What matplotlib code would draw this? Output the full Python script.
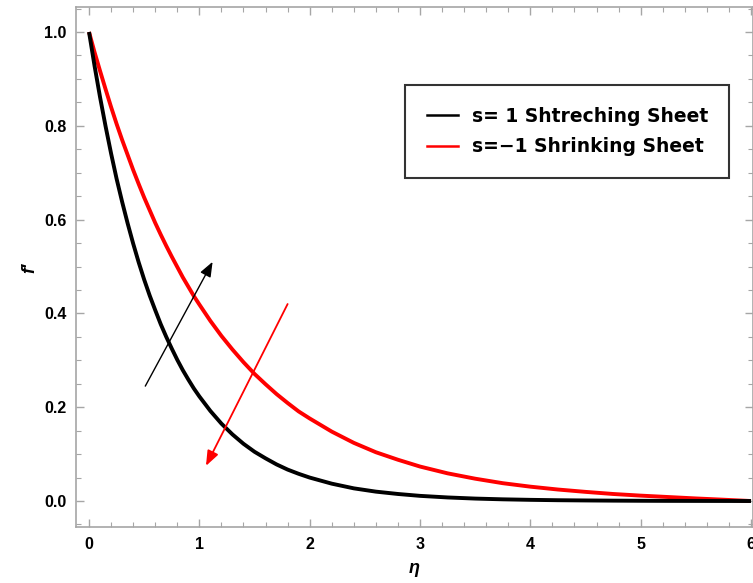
import matplotlib
matplotlib.use("Agg")
import matplotlib.pyplot as plt
from matplotlib.lines import Line2D
from matplotlib.ticker import MultipleLocator

plt.rcParams['font.family'] = ['Liberation Sans', 'DejaVu Sans']

eta = [0, 0.05, 0.10, 0.15, 0.20, 0.25, 0.30, 0.35, 0.40, 0.45, 0.50, 0.55, 0.60,
       0.65, 0.70, 0.75, 0.80, 0.85, 0.90, 0.95, 1.00, 1.1, 1.2, 1.3, 1.4, 1.5,
       1.6, 1.7, 1.8, 1.9, 2.0, 2.2, 2.4, 2.6, 2.8, 3.0, 3.25, 3.5, 3.75, 4.0,
       4.25, 4.5, 4.75, 5.0, 5.25, 5.5, 5.75, 6.0]
f_stretch = [1.000, 0.928, 0.861, 0.799, 0.741, 0.687, 0.638, 0.592, 0.549, 0.509,
             0.472, 0.438, 0.407, 0.377, 0.350, 0.325, 0.301, 0.279, 0.259, 0.240,
             0.223, 0.192, 0.165, 0.142, 0.122, 0.105, 0.091, 0.078, 0.067, 0.058,
             0.050, 0.037, 0.027, 0.020, 0.015, 0.011, 0.0076, 0.0052, 0.0036, 0.0025,
             0.0017, 0.0012, 0.0008, 0.0005, 0.0003, 0.0002, 0.0001, 0.0]
f_shrink = [1.000, 0.957, 0.917, 0.878, 0.840, 0.804, 0.770, 0.738, 0.706, 0.676,
            0.647, 0.620, 0.593, 0.568, 0.544, 0.521, 0.499, 0.477, 0.457, 0.437,
            0.419, 0.384, 0.352, 0.323, 0.296, 0.271, 0.249, 0.228, 0.209, 0.191,
            0.176, 0.148, 0.124, 0.104, 0.088, 0.0735, 0.059, 0.0476, 0.038, 0.0306,
            0.0245, 0.0195, 0.015, 0.0115, 0.0085, 0.0055, 0.0028, 0.0]
labels = ["s= 1 Shtreching Sheet", "s=\u22121 Shrinking Sheet"]
xticks = [0, 1, 2, 3, 4, 5, 6]
yticks = [0.0, 0.2, 0.4, 0.6, 0.8, 1.0]

fig = plt.figure(figsize=(7.53, 5.83), dpi=100)
ax = fig.add_axes([76/753, 1-527/583, 1-76/753, (527-7)/583])

ax.plot(eta, f_shrink, color='#ff0000', lw=2.8, solid_capstyle='butt', zorder=3)
ax.plot(eta, f_stretch, color='black', lw=2.8, solid_capstyle='butt', zorder=3)

ax.set_xlim(-0.118, 6.018)
ax.set_ylim(-0.0554, 1.0533)

frame_col = '#a6a6a6'
for sp in ax.spines.values():
    sp.set_color(frame_col)
    sp.set_linewidth(1.2)

ax.set_xticks(xticks)
ax.set_yticks(yticks)
ax.set_xticklabels([str(t) for t in xticks])
ax.set_yticklabels([f"{t:.1f}" for t in yticks])
ax.xaxis.set_minor_locator(MultipleLocator(0.2))
ax.yaxis.set_minor_locator(MultipleLocator(0.05))
ax.tick_params(which='both', direction='in', top=True, right=True, color=frame_col,
               labelsize=11.5, pad=7)
ax.tick_params(which='major', length=6, width=1.0)
ax.tick_params(which='minor', length=3.5, width=0.8)
for lab in ax.get_xticklabels() + ax.get_yticklabels():
    lab.set_fontweight('bold')

ax.set_xlabel("\u03b7", fontsize=13, fontweight='bold', style='italic', labelpad=6)
fig.text(30/753, 1-268/583, "f\u2032", rotation=90, fontsize=13, fontweight='bold',
         style='italic', ha='center', va='center')

# arrows
ax.annotate("", xy=(1.12, 0.51), xytext=(0.51, 0.245),
            arrowprops=dict(arrowstyle='-|>,head_length=0.9,head_width=0.35',
                            color='black', lw=1.0, shrinkA=0, shrinkB=0), zorder=4)
ax.annotate("", xy=(1.06, 0.075), xytext=(1.80, 0.42),
            arrowprops=dict(arrowstyle='-|>,head_length=0.9,head_width=0.35',
                            color='#ff0000', lw=1.3, shrinkA=0, shrinkB=0), zorder=4)

handles = [Line2D([], [], color='black', lw=1.8), Line2D([], [], color='#ff0000', lw=1.8)]
leg = ax.legend(handles, labels, loc='upper left',
                bbox_to_anchor=((405-76)/677, 1-(85-7)/520),
                prop={'family': 'DejaVu Sans', 'weight': 'bold', 'size': 13.5},
                frameon=True, fancybox=False,
                edgecolor='black', borderpad=1.15, handlelength=1.7, handletextpad=0.7,
                labelspacing=0.62, borderaxespad=0)
leg.get_frame().set_linewidth(1.5)

fig.savefig("out.png", dpi=100)
